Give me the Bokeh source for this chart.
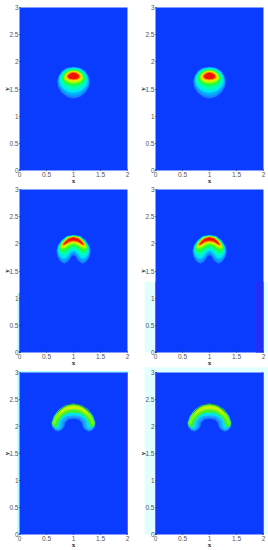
from bokeh.plotting import figure
from bokeh.layouts import column, row
from bokeh.models import FixedTicker, Label
from bokeh.embed import file_html
from bokeh.resources import INLINE

x_ticks = [0, 0.5, 1, 1.5, 2]
x_tick_labels = ["0", "0.5", "1", "1.5", "2"]
y_ticks = [0, 0.5, 1, 1.5, 2, 2.5, 3]
y_tick_labels = ["0", "0.5", "1", "1.5", "2", "2.5", "3"]

band_colors_1 = ["#1a84ff", "#00b0ff", "#00e8f0", "#00ffb0", "#20ff40", "#a0ff00", "#ffe800", "#ff8000", "#f01000"]
band_colors_3 = ["#1a84ff", "#1ea8ff", "#00e4f0", "#40f030", "#80f810", "#d8f000"]

# half outlines: (distance from x=1, y), top to bottom, outer band first
shape_1 = [
    [(0,1.90),(.12,1.885),(.21,1.83),(.27,1.74),(.295,1.64),(.28,1.54),(.22,1.44),(.12,1.36),(0,1.33)],
    [(0,1.895),(.12,1.875),(.21,1.82),(.265,1.73),(.28,1.64),(.26,1.55),(.2,1.47),(.11,1.40),(0,1.38)],
    [(0,1.885),(.12,1.865),(.20,1.81),(.25,1.73),(.26,1.65),(.24,1.57),(.18,1.50),(.10,1.45),(0,1.43)],
    [(0,1.87),(.11,1.85),(.19,1.80),(.23,1.72),(.24,1.66),(.21,1.59),(.15,1.54),(.08,1.5),(0,1.49)],
    [(0,1.855),(.10,1.835),(.17,1.78),(.20,1.72),(.2,1.67),(.17,1.62),(.11,1.58),(.05,1.56),(0,1.55)],
    [(0,1.84),(.09,1.82),(.15,1.775),(.175,1.72),(.17,1.68),(.13,1.64),(.07,1.615),(0,1.605)],
    [(0,1.825),(.08,1.805),(.13,1.765),(.15,1.72),(.14,1.685),(.10,1.66),(.05,1.645),(0,1.64)],
    [(0,1.815),(.07,1.795),(.115,1.76),(.125,1.725),(.11,1.695),(.07,1.675),(0,1.665)],
    [(0,1.80),(.05,1.785),(.09,1.755),(.10,1.725),(.08,1.70),(.04,1.69),(0,1.685)],
]
shape_2 = [
    [(0,2.155),(.12,2.135),(.22,2.06),(.29,1.96),(.31,1.86),(.29,1.76),(.24,1.68),(.17,1.64),(.10,1.68),(.04,1.77),(0,1.80)],
    [(0,2.155),(.12,2.133),(.22,2.057),(.28,1.96),(.30,1.87),(.28,1.78),(.23,1.71),(.17,1.68),(.11,1.72),(.05,1.80),(0,1.84)],
    [(0,2.15),(.12,2.13),(.21,2.055),(.27,1.96),(.285,1.88),(.265,1.80),(.22,1.75),(.17,1.73),(.12,1.76),(.06,1.84),(0,1.88)],
    [(0,2.145),(.12,2.125),(.21,2.05),(.26,1.96),(.27,1.89),(.25,1.83),(.21,1.80),(.17,1.79),(.12,1.81),(.06,1.88),(0,1.92)],
    [(0,2.14),(.12,2.12),(.2,2.045),(.25,1.96),(.255,1.90),(.23,1.86),(.19,1.85),(.13,1.87),(.07,1.93),(0,1.96)],
    [(0,2.135),(.11,2.11),(.19,2.04),(.235,1.96),(.235,1.92),(.2,1.91),(.14,1.93),(.07,1.98),(0,2.0)],
    [(0,2.13),(.11,2.105),(.18,2.04),(.22,1.97),(.21,1.95),(.16,1.96),(.08,2.01),(0,2.03)],
    [(0,2.125),(.10,2.10),(.17,2.04),(.205,1.975),(.18,1.975),(.09,2.025),(0,2.045)],
    [(0,2.118),(.09,2.09),(.15,2.035),(.185,1.985),(.15,2.0),(.08,2.05),(0,2.065)],
]
shape_3 = [
    [(0,2.42),(.15,2.39),(.27,2.31),(.36,2.19),(.40,2.07),(.39,1.99),(.34,1.93),(.28,1.91),(.21,1.95),(.175,2.0),(.155,2.08),(.09,2.135),(0,2.15)],
    [(0,2.42),(.15,2.39),(.27,2.31),(.355,2.19),(.395,2.07),(.38,2.0),(.34,1.95),(.28,1.93),(.225,1.96),(.20,2.03),(.19,2.09),(.11,2.165),(0,2.18)],
    [(0,2.41),(.15,2.38),(.27,2.3),(.35,2.19),(.39,2.07),(.375,2.01),(.33,1.97),(.29,1.96),(.25,2.0),(.245,2.08),(.2,2.15),(.11,2.2),(0,2.21)],
    [(0,2.41),(.15,2.38),(.27,2.30),(.345,2.19),(.395,2.07),(.38,2.01),(.34,1.99),(.31,2.0),(.29,2.05),(.26,2.13),(.20,2.2),(.11,2.25),(0,2.26)],
    [(0,2.395),(.15,2.365),(.25,2.29),(.33,2.19),(.375,2.07),(.36,2.04),(.34,2.05),(.33,2.1),(.30,2.14),(.24,2.21),(.15,2.28),(.07,2.305),(0,2.31)],
    [(0,2.375),(.12,2.35),(.22,2.29),(.28,2.22),(.25,2.24),(.13,2.32),(0,2.34)],
]
top_edge_3 = [(.30,2.26),(.20,2.35),(.10,2.405),(0,2.42)]

panel_shapes = [(shape_1, band_colors_1), (shape_2, band_colors_1), (shape_3, band_colors_3)]

# per panel, (row, col): pale outside strips and tinted inside strips as (x0, x1, y0, y1)
pale = {
    (1, 0): [(-0.04, 0, 0, 1.1)],
    (1, 1): [(-0.2, 0, 0, 1.3), (2, 2.1, 0, 1.3)],
    (2, 0): [(-0.04, 0, 0, 3.03), (-0.04, 2.02, 3, 3.03)],
    (2, 1): [(-0.2, 0, 0, 3.1), (2, 2.1, 0, 3.1), (-0.2, 2.1, 3, 3.1)],
}
tint = {
    (1, 0): [(0, 0.03, 0, 1.1)],
    (1, 1): [(0, 0.04, 0, 1.3), (1.86, 2, 0, 1.3)],
    (2, 0): [(1.98, 2, 0, 3)],
    (2, 1): [(1.97, 2, 0, 3), (0, 0.02, 0, 3)],
}

BG = "#0a3cff"
PALE = {0: "#aaffff", 1: "#e2ffff"}
TINT = "#2230f4"
TXT = "#555555"

borders = {0: (17, 7), 1: (21, 5)}
vert = [(3, 163, 14), (5, 163, 15), (5, 162, 14)]
ylabel_x = -0.23
xlabel_y = -0.19
PX_X = 54.0

rows = []
for r, (bands, cols) in enumerate(panel_shapes):
    figs = []
    top, fh, bot = vert[r]
    px_y = fh / 3
    for c in range(2):
        left, right = borders[c]
        p = figure(width=left + 108 + right, height=top + fh + bot,
                   x_range=(-left / PX_X, 2 + right / PX_X),
                   y_range=(-bot / px_y, 3 + top / px_y),
                   output_backend="svg", toolbar_location=None,
                   min_border=0, background_fill_color="white", outline_line_color=None)
        p.grid.visible = False
        for ax, t, tl in ((p.xaxis[0], x_ticks, x_tick_labels), (p.yaxis[0], y_ticks, y_tick_labels)):
            ax.fixed_location = 0
            ax.ticker = FixedTicker(ticks=t)
            ax.major_label_overrides = {k: v for k, v in zip(t, tl)}
            ax.major_label_text_font = "Liberation Sans"
            ax.major_label_text_font_size = "6.5px"
            ax.major_label_text_color = TXT
            ax.major_label_standoff = 1
            ax.major_tick_in = 1
            ax.major_tick_out = 0
            ax.minor_tick_line_color = None
            ax.major_tick_line_color = "#222244"
            ax.axis_line_color = None
        for (x0, x1, y0, y1) in pale.get((r, c), []):
            p.quad(left=x0, right=x1, bottom=y0, top=y1, fill_color=PALE[c], line_color=None)
        p.quad(left=0, right=2, bottom=0, top=3, fill_color=BG, line_color=None)
        for (x0, x1, y0, y1) in tint.get((r, c), []):
            p.quad(left=x0, right=x1, bottom=y0, top=y1, fill_color=TINT, line_color=None)
        for band, col in zip(bands, cols):
            xs = [1 + d for d, _ in band] + [1 - d for d, _ in reversed(band)]
            ys = [y for _, y in band] + [y for _, y in reversed(band)]
            p.patch(xs, ys, fill_color=col, line_color=col, line_width=0.5)
        if r == 2:
            xs = [1 - d for d, _ in top_edge_3] + [1 + d for d, _ in reversed(top_edge_3)]
            ys = [y for _, y in top_edge_3] + [y for _, y in reversed(top_edge_3)]
            p.line(xs, ys, line_color="#306040", line_width=0.8)
        p.add_layout(Label(x=ylabel_x, y=1.5, text="y",
                           text_font="Liberation Serif", text_font_style="bold", text_font_size="7px",
                           text_color="#222222", angle=1.5708, text_align="center", text_baseline="middle"))
        p.add_layout(Label(x=1, y=xlabel_y, text="x",
                           text_font="Liberation Serif", text_font_style="bold", text_font_size="7px",
                           text_color="#222222", text_align="center", text_baseline="middle"))
        figs.append(p)
    rows.append(row(*figs, spacing=0))

root = column(*rows, spacing=0, margin=(4, 0, 0, 2))
open("out.html", "w").write(file_html(root, INLINE))
